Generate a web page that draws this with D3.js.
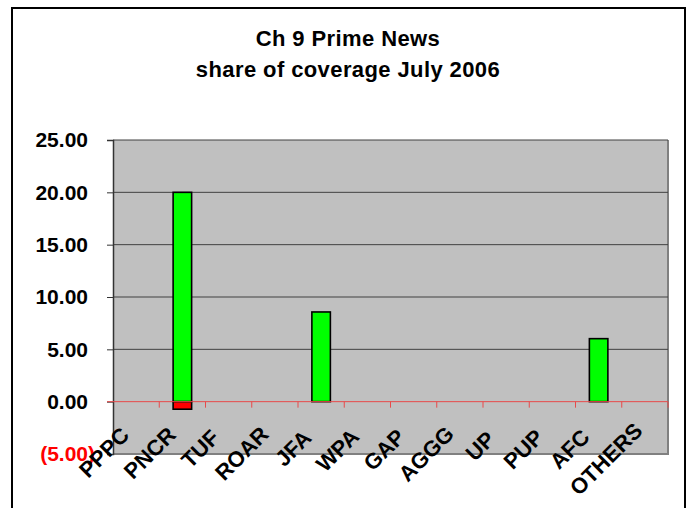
<!DOCTYPE html>
<html>
<head>
<meta charset="utf-8">
<script src="https://cdn.jsdelivr.net/npm/d3@7"></script>
<style>
  html, body { margin: 0; padding: 0; background: #fff; }
  svg { display: block; }
  text { font-family: "Liberation Sans", Arial, sans-serif; font-weight: bold; }
</style>
</head>
<body>
<script>
const categories = ["PPPC","PNCR","TUF","ROAR","JFA","WPA","GAP","AGGG","UP","PUP","AFC","OTHERS"];
const positiveShare = [0, 20.0, 0, 0, 8.57, 0, 0, 0, 0, 0, 6.02, 0];
const negativeShare = [0, -0.72, 0, 0, 0, 0, 0, 0, 0, 0, 0, 0];
const yTickValues = [-5, 0, 5, 10, 15, 20, 25];
const titleLines = ["Ch 9 Prime News", "share of coverage July 2006"];

const W = 692, H = 508;
const plot = { left: 113, right: 668, top: 140, bottom: 454 };

const svg = d3.select("body").append("svg").attr("width", W).attr("height", H);

// outer chart border
svg.append("rect").attr("x", 12).attr("y", 8).attr("width", 673).attr("height", 520)
  .attr("fill", "#fff").attr("stroke", "#000").attr("stroke-width", 2);

// title
const title = svg.append("text").attr("text-anchor", "middle").attr("font-size", 22)
  .attr("letter-spacing", 0.4).attr("fill", "#000");
titleLines.forEach((t, i) => {
  title.append("tspan").attr("x", 348).attr("y", 46 + i * 31).text(t);
});

const x = d3.scaleBand().domain(categories).range([plot.left, plot.right]).padding(0);
const y = d3.scaleLinear().domain([-5, 25]).range([plot.bottom, plot.top]);

// plot area background
svg.append("rect").attr("x", plot.left).attr("y", plot.top)
  .attr("width", plot.right - plot.left).attr("height", plot.bottom - plot.top)
  .attr("fill", "#C0C0C0");

// right & bottom plot border (gray)
svg.append("path")
  .attr("d", `M${plot.right},${plot.top} V${plot.bottom} H${plot.left}`)
  .attr("fill", "none").attr("stroke", "#808080").attr("stroke-width", 2);

// gridlines
svg.append("g").selectAll("line")
  .data(yTickValues.filter(v => v > 0))
  .join("line")
  .attr("x1", plot.left).attr("x2", plot.right)
  .attr("y1", d => y(d)).attr("y2", d => y(d))
  .attr("stroke", "#404040").attr("stroke-width", 1);

// y axis
const fmt = d3.format(".2f");
const yAxis = d3.axisLeft(y).tickValues(yTickValues).tickSize(6).tickPadding(19)
  .tickFormat(d => d < 0 ? "(" + fmt(-d) + ")" : fmt(d));
const gy = svg.append("g").attr("transform", `translate(${plot.left},0)`).call(yAxis);
gy.select(".domain").attr("stroke", "#333").attr("stroke-width", 1.5);
gy.selectAll(".tick line").attr("stroke", "#333");
gy.selectAll(".tick text")
  .attr("font-size", 21).attr("font-family", "Liberation Sans, Arial, sans-serif")
  .attr("font-weight", "bold")
  .attr("fill", d => d < 0 ? "#FF0000" : "#000")
  .attr("dx", d => d < 0 ? 7 : 0);

// bars
const barW = x.bandwidth() * 0.4;
const bars = svg.append("g");
bars.selectAll("rect.pos")
  .data(categories.map((c, i) => ({ c, v: positiveShare[i] })).filter(d => d.v !== 0))
  .join("rect").attr("class", "pos")
  .attr("x", d => x(d.c) + (x.bandwidth() - barW) / 2)
  .attr("y", d => y(d.v))
  .attr("width", barW)
  .attr("height", d => y(0) - y(d.v))
  .attr("fill", "#00FF00").attr("stroke", "#000").attr("stroke-width", 1.6);
bars.selectAll("rect.neg")
  .data(categories.map((c, i) => ({ c, v: negativeShare[i] })).filter(d => d.v !== 0))
  .join("rect").attr("class", "neg")
  .attr("x", d => x(d.c) + (x.bandwidth() - barW) / 2)
  .attr("y", y(0))
  .attr("width", barW)
  .attr("height", d => y(d.v) - y(0))
  .attr("fill", "#FF0000").attr("stroke", "#000").attr("stroke-width", 1.6);

// x axis (red) at zero
const xr = svg.append("g").attr("stroke", "#E84A4A").attr("stroke-width", 1);
xr.append("line").attr("x1", plot.left - 6).attr("x2", plot.right)
  .attr("y1", y(0)).attr("y2", y(0));
const boundaries = categories.map(c => x(c) + x.bandwidth());
xr.selectAll("line.tk").data(boundaries).join("line").attr("class", "tk")
  .attr("x1", d => d).attr("x2", d => d)
  .attr("y1", y(0)).attr("y2", y(0) + 6);

// category labels (rotated -45, shifted along baseline by a share of their length)
const labels = svg.append("g").selectAll("text")
  .data(categories)
  .join("text")
  .attr("text-anchor", "end")
  .attr("font-size", 22)
  .attr("fill", "#000")
  .text(d => d);
labels.each(function(d) {
  const w = this.getComputedTextLength();
  d3.select(this)
    .attr("x", 0.2 * w)
    .attr("transform", `translate(${x(d) + x.bandwidth() / 2 - 14},445) rotate(-45)`);
});
</script>
</body>
</html>
